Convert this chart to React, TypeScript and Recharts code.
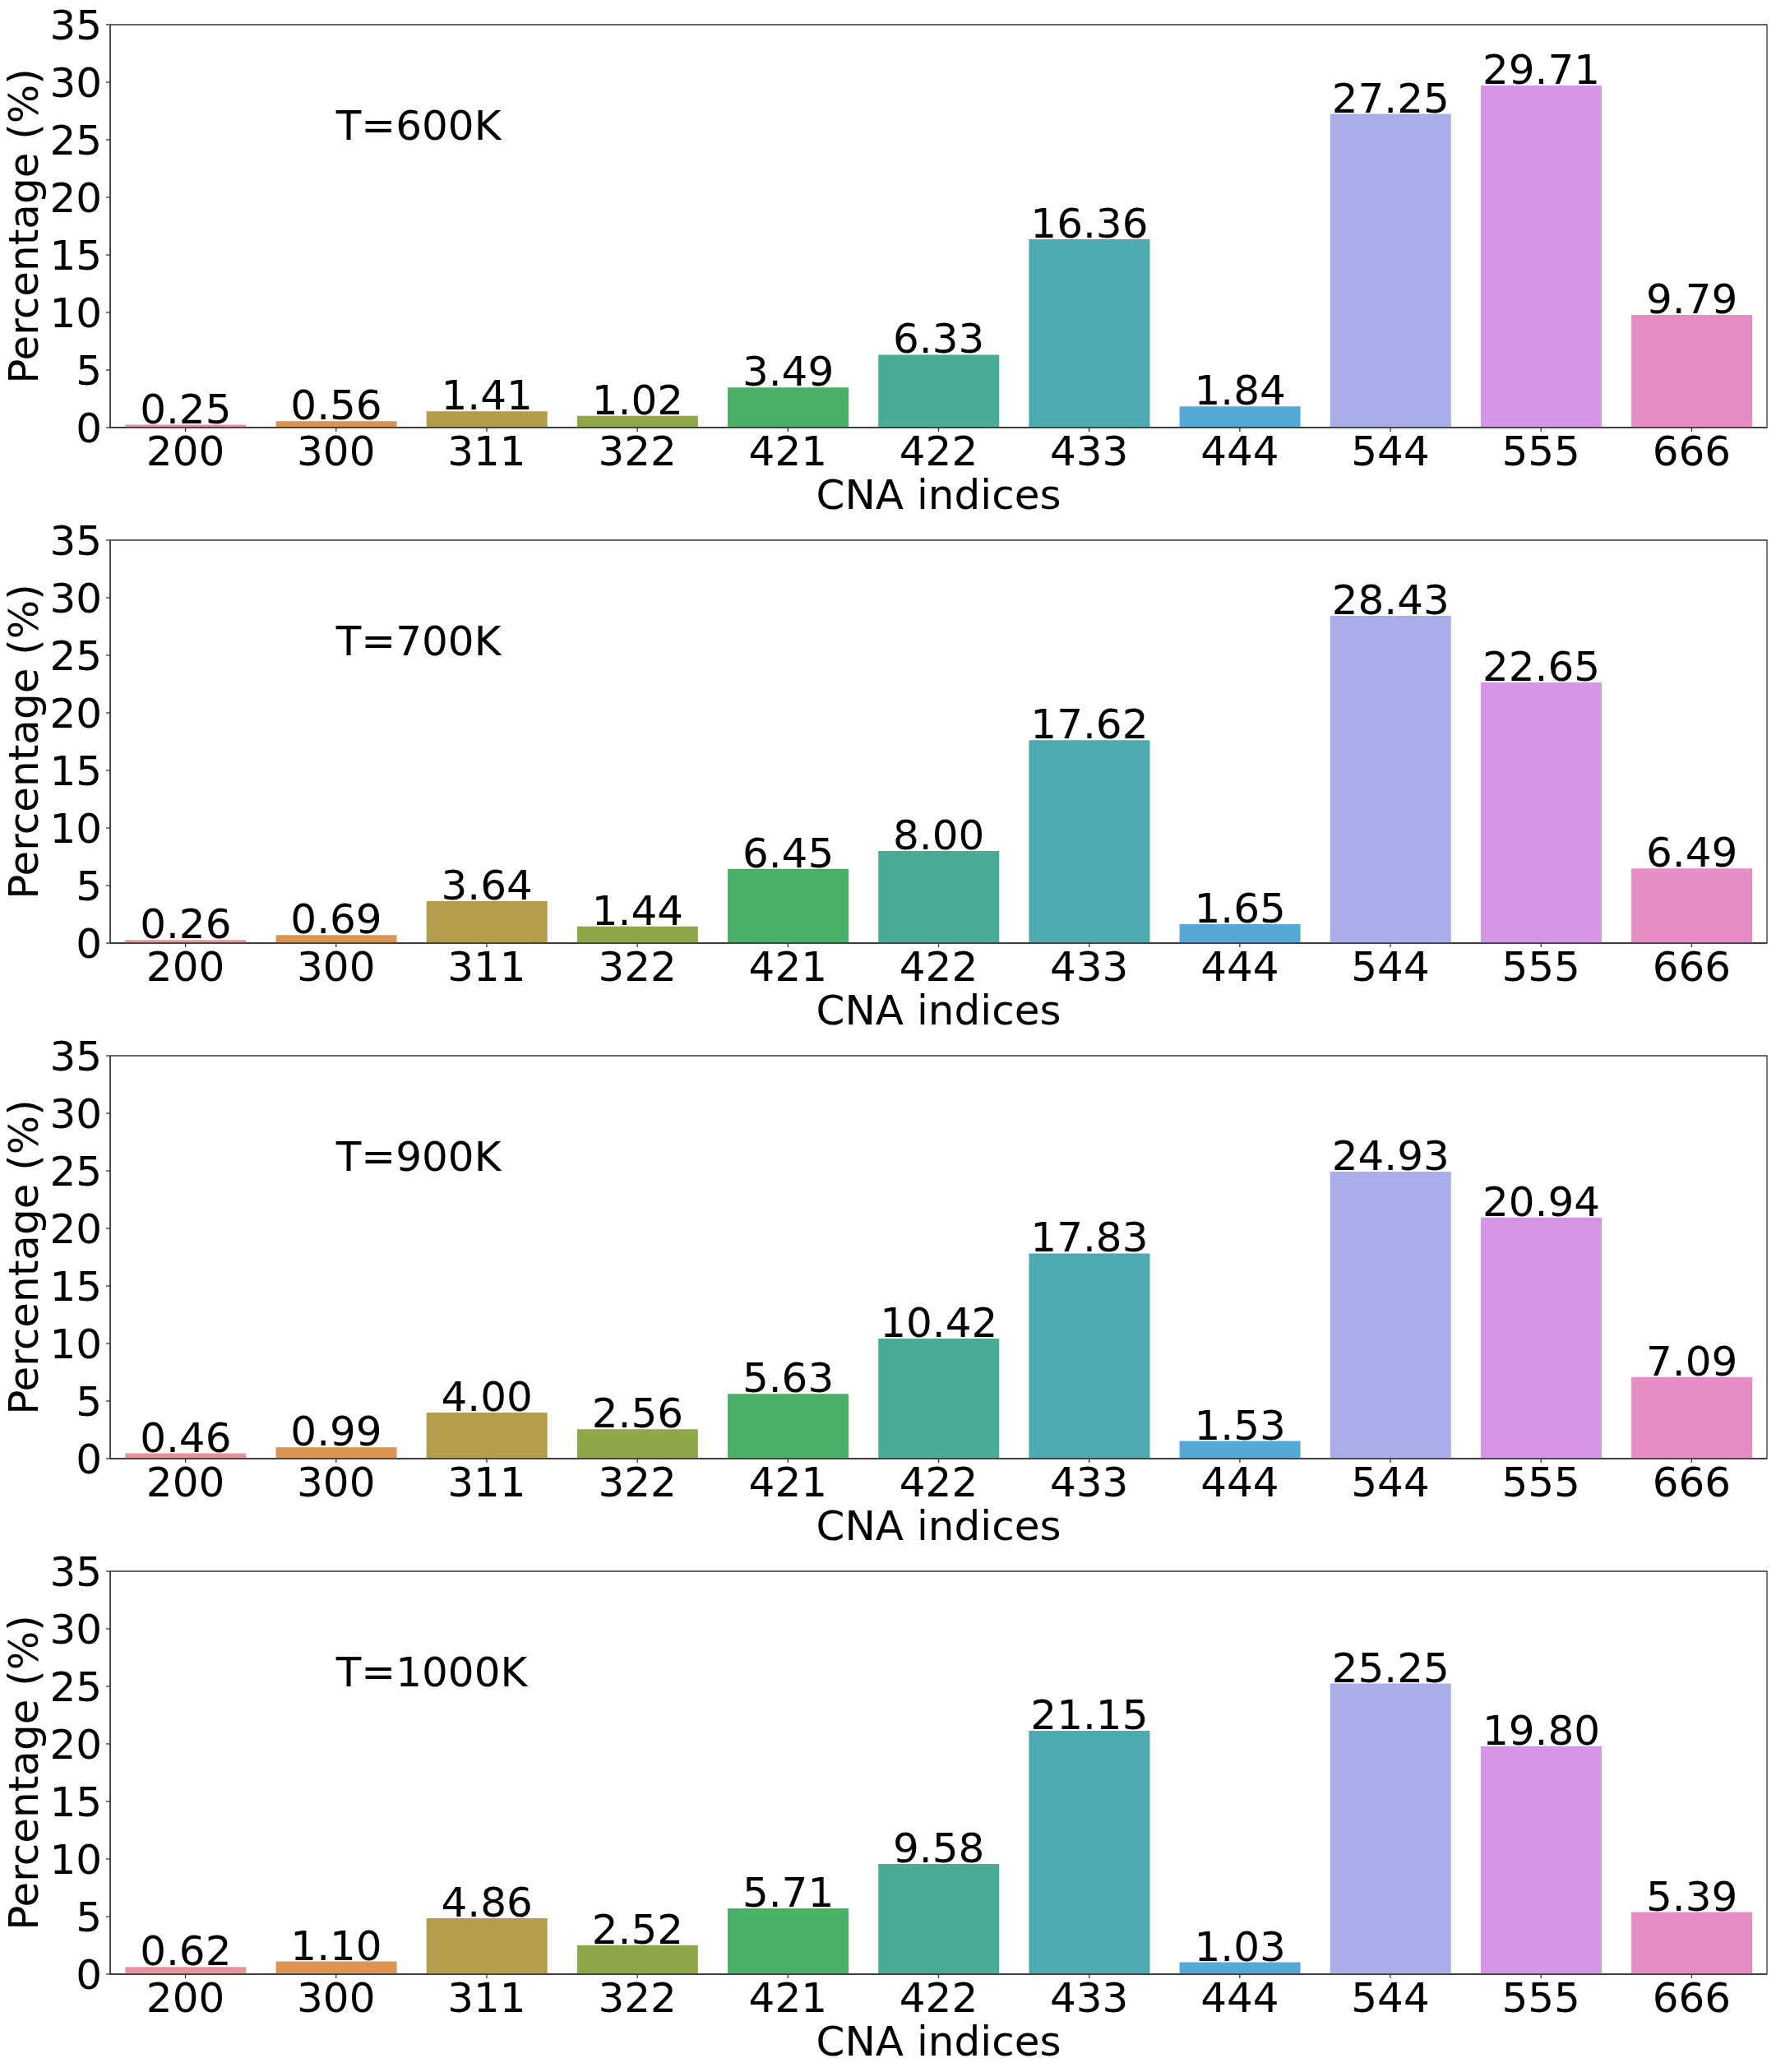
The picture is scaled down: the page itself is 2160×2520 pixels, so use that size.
import React from 'react';
import { BarChart, Bar, XAxis, YAxis, Cell, LabelList, ReferenceArea, ReferenceDot } from 'recharts';

const categories = ['200', '300', '311', '322', '421', '422', '433', '444', '544', '555', '666'];
const panelTitles = ['T=600K', 'T=700K', 'T=900K', 'T=1000K'];
const values600 = [0.25, 0.56, 1.41, 1.02, 3.49, 6.33, 16.36, 1.84, 27.25, 29.71, 9.79];
const values700 = [0.26, 0.69, 3.64, 1.44, 6.45, 8.0, 17.62, 1.65, 28.43, 22.65, 6.49];
const values900 = [0.46, 0.99, 4.0, 2.56, 5.63, 10.42, 17.83, 1.53, 24.93, 20.94, 7.09];
const values1000 = [0.62, 1.1, 4.86, 2.52, 5.71, 9.58, 21.15, 1.03, 25.25, 19.8, 5.39];
const allValues = [values600, values700, values900, values1000];
const yTicks = [0, 5, 10, 15, 20, 25, 30, 35];
const barColors = [
  '#e8939c', '#da9350', '#b39d4a', '#8ea748', '#4aaf67', '#4aab96',
  '#4eaab1', '#54aad4', '#a9aee9', '#d596e5', '#e88cc6',
];

const FONT = "'DejaVu Sans', sans-serif";
const FS = 50;
const AXIS_COLOR = '#333333';

const XLabel = (props: any) => {
  const vb = props.viewBox || {};
  return (
    <text x={vb.x + vb.width / 2} y={vb.y + 99} textAnchor="middle" fontSize={FS} fontFamily={FONT} fill="#000">
      CNA indices
    </text>
  );
};

const YLabel = (props: any) => {
  const vb = props.viewBox || {};
  const x = vb.x + 46;
  const y = vb.y + vb.height / 2;
  return (
    <text x={x} y={y} transform={`rotate(-90, ${x}, ${y})`} textAnchor="middle" fontSize={FS} fontFamily={FONT} fill="#000">
      Percentage (%)
    </text>
  );
};

const TitleText = (props: any) => {
  const vb = props.viewBox || {};
  const x = vb.x + (vb.width || 0) / 2;
  const y = vb.y + (vb.height || 0) / 2;
  return (
    <text x={x} y={y} textAnchor="start" fontSize={FS} fontFamily={FONT} fill="#000">
      {props.title}
    </text>
  );
};

function Panel({ values, title, top }: { values: number[]; title: string; top: number }) {
  const data = categories.map((c, i) => ({ cat: c, value: values[i] }));
  return (
    <div style={{ position: 'absolute', left: 0, top, width: 2160, height: 639 }}>
      <BarChart
        width={2160}
        height={639}
        data={data}
        margin={{ top: 30, right: 11, bottom: 0, left: 0 }}
        barCategoryGap="10%"
      >
        <XAxis
          dataKey="cat"
          height={119}
          interval={0}
          tick={{ fontSize: FS, fill: '#000', fontFamily: FONT }}
          tickSize={5}
          tickMargin={5}
          axisLine={{ stroke: AXIS_COLOR, strokeWidth: 1.3 }}
          tickLine={{ stroke: AXIS_COLOR, strokeWidth: 1.3 }}
          label={<XLabel />}
        />
        <YAxis
          width={134}
          domain={[0, 35]}
          ticks={yTicks}
          type="number"
          allowDataOverflow
          tick={{ fontSize: FS, fill: '#000', fontFamily: FONT }}
          tickSize={5}
          tickMargin={5}
          axisLine={{ stroke: AXIS_COLOR, strokeWidth: 1.3 }}
          tickLine={{ stroke: AXIS_COLOR, strokeWidth: 1.3 }}
          label={<YLabel />}
        />
        <Bar dataKey="value" isAnimationActive={false}>
          {data.map((d, i) => (
            <Cell key={d.cat} fill={barColors[i]} />
          ))}
          <LabelList
            dataKey="value"
            position="top"
            offset={2}
            formatter={(v: any) => Number(v).toFixed(2)}
            fill="#000"
            fontSize={FS}
            fontFamily={FONT}
          />
        </Bar>
        <ReferenceArea
          y1={0}
          y2={35}
          fill="none"
          fillOpacity={0}
          stroke={AXIS_COLOR}
          strokeWidth={1.3}
          ifOverflow="visible"
        />
        <ReferenceDot
          x="300"
          y={25}
          r={1}
          fill="none"
          stroke="none"
          ifOverflow="visible"
          label={<TitleText title={title} />}
        />
      </BarChart>
    </div>
  );
}

export default function App() {
  return (
    <div style={{ position: 'absolute', left: 0, top: 0, width: 2160, height: 2520, background: '#fff' }}>
      {allValues.map((vals, i) => (
        <Panel key={panelTitles[i]} values={vals} title={panelTitles[i]} top={i * 627} />
      ))}
    </div>
  );
}
